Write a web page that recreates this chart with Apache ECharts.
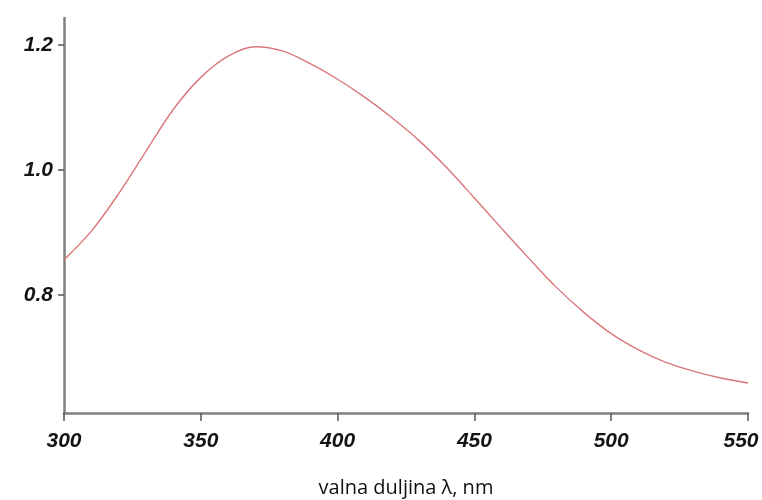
<!DOCTYPE html>
<html>
<head>
<meta charset="utf-8">
<script src="https://cdn.jsdelivr.net/npm/echarts@6/dist/echarts.min.js"></script>
<style>html,body{margin:0;padding:0;background:#fff}#c{width:762px;height:500px}</style>
</head>
<body>
<div id="c"></div>
<script>
var wavelengths = [300,310,320,330,340,350,360,370,380,390,400,410,420,430,440,450,460,470,480,490,500,510,520,530,540,550];
var absorbance = [0.856,0.902,0.962,1.030,1.097,1.148,1.182,1.197,1.190,1.170,1.145,1.116,1.083,1.046,1.003,0.955,0.906,0.858,0.812,0.772,0.738,0.712,0.692,0.678,0.667,0.659];
var yTicks = [0.8, 1.0, 1.2];
var xAxisName = 'valna duljina λ, nm';

var labelFont = {fontFamily: 'Liberation Sans', fontWeight: 'bold', fontStyle: 'italic', fontSize: 21, color: '#151515'};
var chart = echarts.init(document.getElementById('c'));
var pts = wavelengths.map(function(w,i){return [w, absorbance[i]];});
chart.setOption({
  animation: false,
  grid: {left: 64, right: 14, top: 18, bottom: 87, outerBoundsMode: 'none', containLabel: false},
  xAxis: {
    type: 'value', min: 300, max: 550, interval: 50,
    name: xAxisName, nameLocation: 'middle', nameGap: 65,
    nameTextStyle: {fontFamily: 'Open Sans', fontSize: 20, color: '#111'},
    axisLine: {lineStyle: {color: '#808080', width: 2.5}},
    axisTick: {show: true, inside: false, length: 8, lineStyle: {color: '#555', width: 1.5}},
    axisLabel: Object.assign({margin: 18,
      formatter: function(v){ return v === 550 ? '{e|' + v + '}' : String(v); },
      rich: {e: Object.assign({padding: [0, 14, 0, 0]}, labelFont)}
    }, labelFont),
    splitLine: {show: false}
  },
  yAxis: {
    type: 'value', min: 0.611, max: 1.243,
    axisLine: {show: true, lineStyle: {color: '#808080', width: 2.5}},
    axisTick: {show: true, length: 6, customValues: yTicks, lineStyle: {color: '#555', width: 1.5}},
    axisLabel: Object.assign({customValues: yTicks, margin: 11,
      formatter: function(v){return v.toFixed(1);}}, labelFont),
    splitLine: {show: false}
  },
  series: [{
    type: 'line', data: pts, smooth: 0.35, showSymbol: false,
    lineStyle: {color: '#d9777b', width: 1.4}
  }]
});
</script>
</body>
</html>
